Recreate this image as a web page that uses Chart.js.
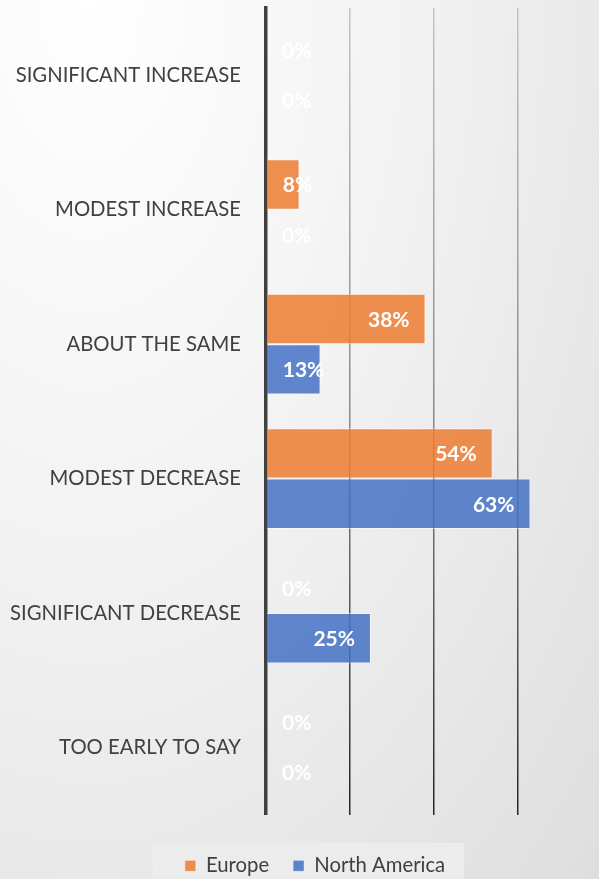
<!DOCTYPE html>
<html>
<head>
<meta charset="utf-8">
<script src="https://cdn.jsdelivr.net/npm/chart.js@4"></script>
<style>
  html, body { margin: 0; padding: 0; }
  body {
    width: 599px; height: 879px; overflow: hidden;
    background: radial-gradient(ellipse farthest-corner at 15% 0%, #ffffff 0%, #f2f2f2 45%, #dedede 100%);
  }
  #wrap { width: 630px; height: 886px; }
</style>
</head>
<body>
<div id="wrap"><canvas id="chart" width="630" height="886"></canvas></div>
<script>
// categories + values (percent)
const categories = ["SIGNIFICANT INCREASE", "MODEST INCREASE", "ABOUT THE SAME", "MODEST DECREASE", "SIGNIFICANT DECREASE", "TOO EARLY TO SAY"];
const europe = [0, 8, 38, 54, 0, 0];
const northAmerica = [0, 0, 13, 63, 25, 0];

const FONT = "Lato";

// white % labels, inside the end of each bar
const barLabels = {
  id: "barLabels",
  afterDatasetsDraw(chart) {
    const ctx = chart.ctx;
    ctx.save();
    ctx.font = "bold 21px " + FONT;
    ctx.fillStyle = "#ffffff";
    ctx.textBaseline = "middle";
    ctx.textAlign = "left";
    chart.data.datasets.forEach((ds, i) => {
      chart.getDatasetMeta(i).data.forEach((bar, j) => {
        const txt = ds.data[j] + "%";
        const w = ctx.measureText(txt).width;
        const x = Math.max(bar.x - 16 - w, bar.base + 16);
        ctx.fillText(txt, x, bar.y + 1);
      });
    });
    ctx.restore();
  }
};

// light box behind the legend
const legendBox = {
  id: "legendBox",
  beforeDraw(chart) {
    const lg = chart.legend;
    if (!lg || !lg.legendHitBoxes || !lg.legendHitBoxes.length) return;
    const boxes = lg.legendHitBoxes;
    const left = Math.min(...boxes.map(b => b.left)) - 32;
    const right = Math.max(...boxes.map(b => b.left + b.width)) + 19;
    const ctx = chart.ctx;
    ctx.save();
    ctx.fillStyle = "rgba(236,236,236,0.9)";
    ctx.fillRect(left, 843, right - left, lg.bottom - 843);
    ctx.restore();
  }
};

function gridGradient(context) {
  const chart = context.chart;
  const area = chart.chartArea;
  if (!area) return "#999";
  const g = chart.ctx.createLinearGradient(0, area.top, 0, area.bottom);
  g.addColorStop(0, "#c4c4c4");
  g.addColorStop(0.5, "#8a8a8a");
  g.addColorStop(1, "#262626");
  return g;
}

new Chart(document.getElementById("chart"), {
  type: "bar",
  data: {
    labels: categories,
    datasets: [
      {
        label: "Europe",
        data: europe,
        backgroundColor: "rgba(237,125,49,0.85)",
        borderColor: "rgba(255,255,255,0.45)",
        borderWidth: 1
      },
      {
        label: "North America",
        data: northAmerica,
        backgroundColor: "rgba(68,114,196,0.85)",
        borderColor: "rgba(255,255,255,0.45)",
        borderWidth: 1
      }
    ]
  },
  options: {
    indexAxis: "y",
    responsive: false,
    animation: false,
    categoryPercentage: 0.75,
    barPercentage: 1,
    layout: { padding: { top: 8, left: 0, right: 0, bottom: 0 } },
    scales: {
      x: {
        min: 0,
        max: 86.7,
        ticks: { display: false, stepSize: 20 },
        grid: { color: gridGradient, lineWidth: 1.5, drawTicks: false },
        border: { display: false },
        afterFit(scale) { scale.height = 17; }
      },
      y: {
        grid: { display: false, drawTicks: false },
        border: { display: true, color: "#404040", width: 3.5 },
        ticks: {
          color: "#404040",
          padding: 25,
          font: { family: FONT, size: 20.3 }
        },
        afterFit(scale) {
          scale.width = 266;
          scale.paddingTop = 0;
          scale.paddingBottom = 0;
        }
      }
    },
    plugins: {
      legend: {
        position: "bottom",
        labels: {
          boxWidth: 11,
          boxHeight: 11,
          padding: 24,
          color: "#404040",
          font: { family: FONT, size: 20.3 }
        }
      },
      tooltip: { enabled: false }
    }
  },
  plugins: [barLabels, legendBox]
});
</script>
</body>
</html>
